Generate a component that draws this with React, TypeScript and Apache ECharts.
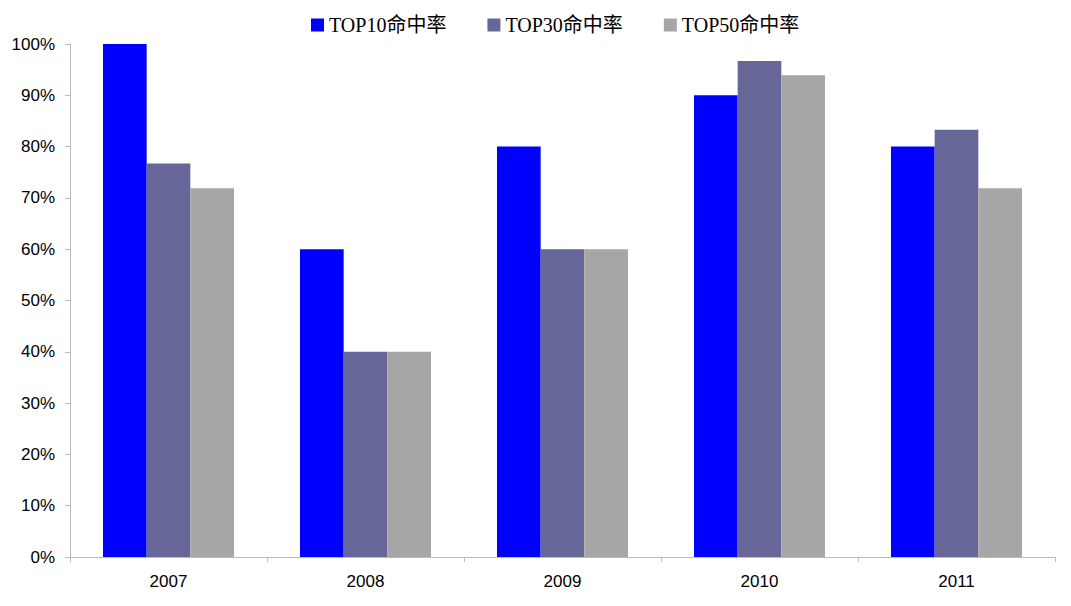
import React, { useEffect, useRef } from "react";
import * as echarts from "echarts";

const categories = ["2007", "2008", "2009", "2010", "2011"];
const seriesNames = ["TOP10命中率", "TOP30命中率", "TOP50命中率"];
const top10 = [100, 60, 80, 90, 80];
const top30 = [76.7, 40, 60, 96.7, 83.3];
const top50 = [71.9, 40, 60, 93.9, 71.9];
const colors = ["#0000FF", "#666699", "#A6A6A6"];

export default function App() {
  const ref = useRef<HTMLDivElement>(null);
  useEffect(() => {
    if (!ref.current) return;
    const chart = echarts.init(ref.current, null, { renderer: "svg" });
    const data = [top10, top30, top50];
    chart.setOption({
      animation: false,
      backgroundColor: "#fff",
      legend: {
        top: 10,
        left: 306,
        itemWidth: 13,
        itemHeight: 13,
        itemGap: 41,
        icon: "rect",
        textStyle: {
          fontFamily: "'Liberation Serif', 'Noto Sans CJK SC', serif",
          fontSize: 20,
          color: "#000",
        },
        data: seriesNames,
      },
      grid: { left: 70, right: 16, top: 44, bottom: 49, containLabel: false },
      xAxis: {
        type: "category",
        data: categories,
        axisLine: { lineStyle: { color: "#bbb" } },
        axisTick: { show: true, length: 5, lineStyle: { color: "#bbb" } },
        axisLabel: {
          fontFamily: "'Liberation Sans', Arial, sans-serif",
          fontSize: 17,
          color: "#000",
          margin: 16,
        },
      },
      yAxis: {
        type: "value",
        min: 0,
        max: 100,
        interval: 10,
        axisLine: { show: true, lineStyle: { color: "#bbb" } },
        axisTick: { show: true, length: 5, lineStyle: { color: "#bbb" } },
        splitLine: { show: false },
        axisLabel: {
          formatter: "{value}%",
          fontFamily: "'Liberation Sans', Arial, sans-serif",
          fontSize: 17,
          color: "#000",
          margin: 15,
        },
      },
      series: seriesNames.map((name, i) => ({
        name,
        type: "bar",
        data: data[i],
        barGap: "0%",
        barCategoryGap: "33.5%",
        itemStyle: { color: colors[i] },
      })),
    });
    return () => chart.dispose();
  }, []);
  return (
    <div
      ref={ref}
      style={{ position: "fixed", left: 0, top: 0, width: 1071, height: 606 }}
    />
  );
}
